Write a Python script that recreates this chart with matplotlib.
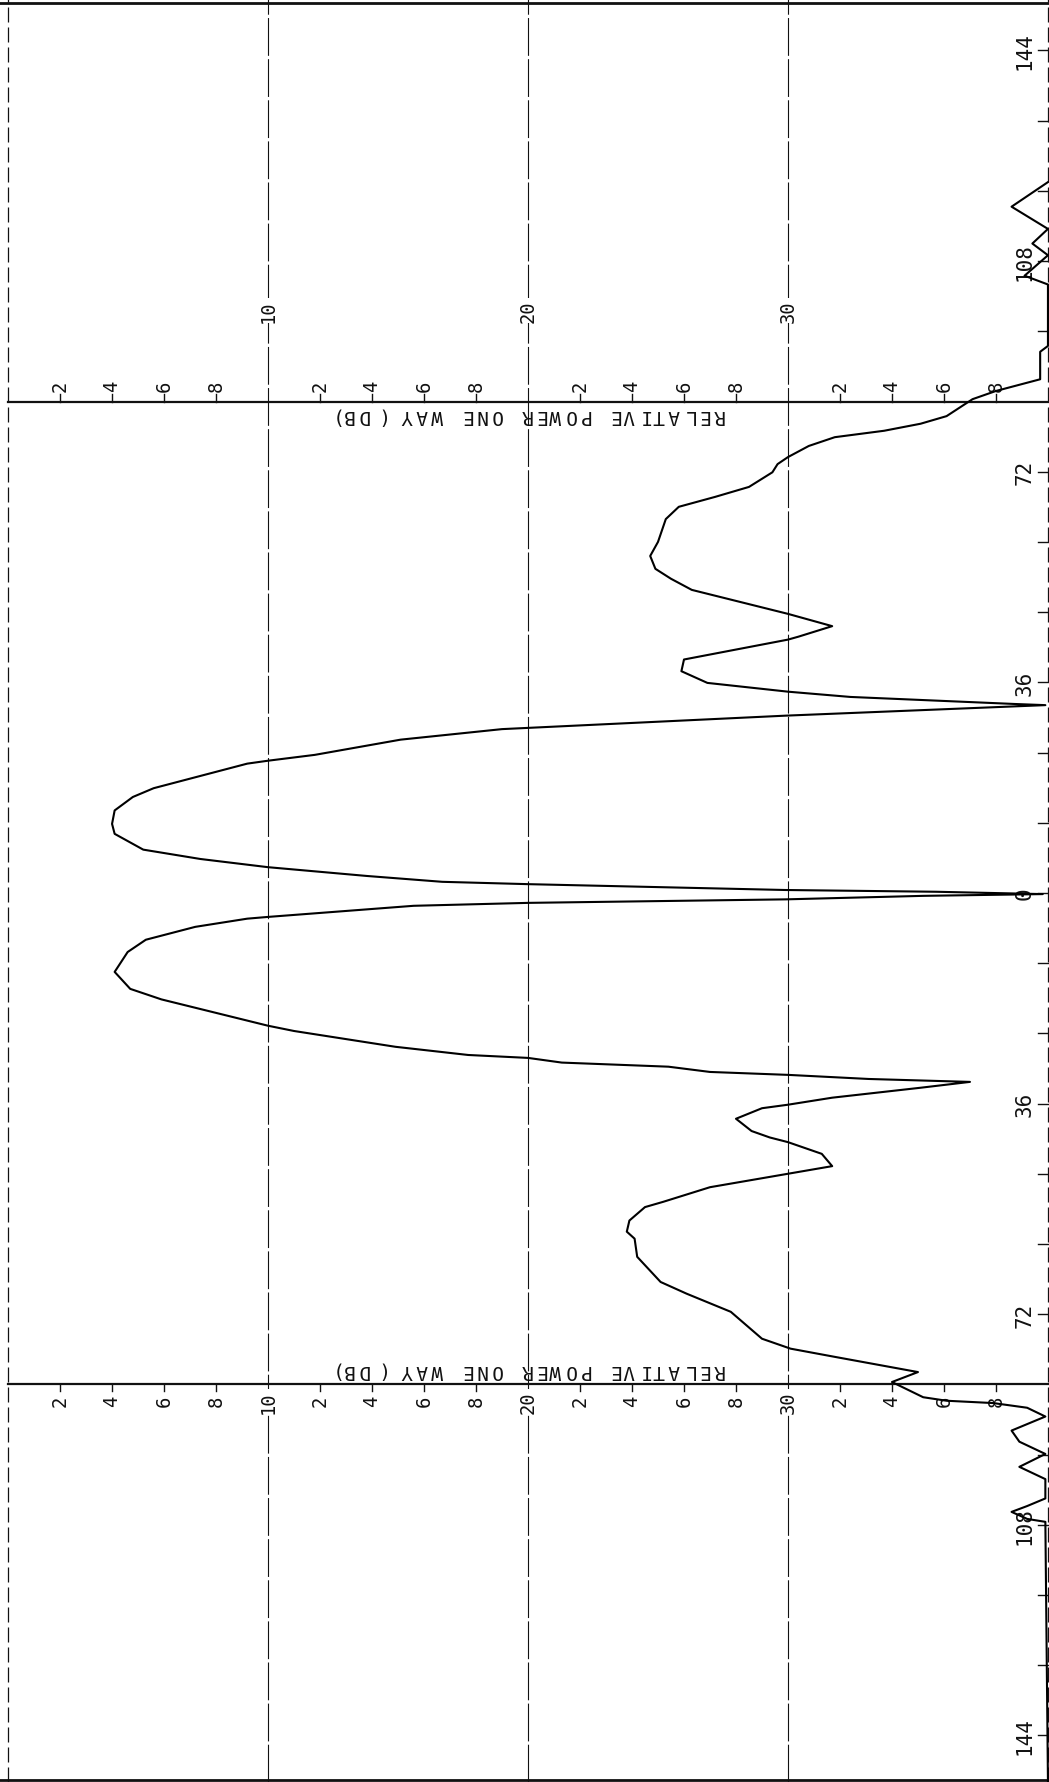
"""
Diagrama de irradiacao (potencia relativa, uma via) em funcao do angulo.

A folha e desenhada "deitada", como saiu do plotter: o angulo corre na
vertical (0 no centro, 144 nas pontas) e a potencia relativa em dB corre
na horizontal (0 a esquerda, 40 a direita).
"""

import matplotlib

matplotlib.use("Agg")
import matplotlib.pyplot as plt


ARQUIVO_SAIDA = "out.png"

# Curva: angulo (graus, positivo para cima) e dB abaixo do pico
ANGULOS = [
    121.5, 117.3, 113.5, 111.0, 109.0, 105.5, 104.0, 93.5, 92.5, 87.8,
    85.8, 84.4, 81.5, 80.2, 79.0, 77.9, 76.4, 74.5, 73.3, 71.9,
    69.4, 67.7, 66.0, 63.9, 60.0, 57.6, 55.4, 53.7, 51.8, 49.7,
    47.7, 45.6, 43.8, 43.3, 39.9, 37.9, 35.9, 34.4, 33.5, 32.3,
    32.1, 30.3, 28.2, 28.0, 26.2, 23.6, 22.6, 22.1, 20.0, 17.9,
    16.4, 14.1, 11.8, 10.1, 7.4, 5.8, 4.4, 2.9, 1.9, 1.5,
    0.5, 0.2, -0.2, -0.5, -1.1, -1.7, -2.2, -4.1, -4.4, -5.8,
    -8.0, -10.1, -13.5, -16.4, -18.2, -20.4, -22.7, -23.6, -26.3, -27.7,
    -28.2, -29.0, -29.7, -30.6, -31.1, -31.8, -32.3, -33.3, -35.0, -36.2,
    -36.8, -38.6, -40.7, -41.8, -42.6, -44.6, -46.7, -48.0, -50.3, -52.8,
    -53.7, -56.0, -57.9, -59.1, -62.2, -66.5, -68.5, -71.6, -76.2, -77.9,
    -79.3, -81.9, -83.6, -86.2, -86.8, -87.2, -88.0, -89.5, -91.9, -93.8,
    -95.9, -98.1, -100.2, -103.5, -104.8, -105.8, -107.0, -107.5, -152.0,
]
POTENCIA_DB = [
    40.0, 38.6, 40.0, 39.4, 40.0, 39.1, 40.0, 40.0, 39.7, 39.7,
    38.0, 37.1, 36.1, 35.1, 33.7, 31.8, 30.8, 30.0, 29.6, 29.4,
    28.5, 27.2, 25.8, 25.3, 25.0, 24.7, 24.9, 25.5, 26.3, 28.2,
    30.0, 31.7, 30.4, 30.0, 26.0, 25.9, 26.9, 30.0, 32.4, 38.7,
    39.9, 29.9, 20.0, 19.0, 15.1, 11.8, 10.0, 9.2, 7.4, 5.6,
    4.8, 4.1, 4.0, 4.1, 5.2, 7.4, 10.0, 13.8, 16.7, 20.0,
    29.9, 35.7, 39.8, 35.2, 29.9, 20.0, 15.6, 10.0, 9.2, 7.2,
    5.3, 4.6, 4.1, 4.7, 5.9, 7.9, 10.0, 11.0, 14.9, 17.7,
    20.0, 21.3, 25.4, 27.0, 30.0, 33.1, 37.0, 35.1, 31.7, 30.0,
    29.0, 28.0, 28.6, 29.3, 30.0, 31.3, 31.7, 30.0, 27.0, 25.2,
    24.5, 23.9, 23.8, 24.1, 24.2, 25.1, 26.1, 27.8, 29.0, 30.1,
    31.8, 35.0, 34.0, 35.2, 36.1, 37.9, 39.2, 39.9, 38.6, 38.9,
    39.9, 38.9, 39.9, 39.9, 39.2, 38.6, 39.2, 39.9, 40.0,
]

# escala de angulo (lado direito) e escala de dB (nos dois eixos horizontais)
MARCAS_ANGULO = [-144, -132, -120, -108, -96, -72, -60, -48, -36, -24, -12,
                 0, 12, 24, 36, 48, 60, 72, 96, 108, 120, 132, 144]
ROTULOS_ANGULO = [144, 108, 72, 36, 0, -36, -72, -108, -144]
GRADE_DB = [10, 20, 30]
MARCAS_DB = [2, 4, 6, 8, 12, 14, 16, 18, 22, 24, 26, 28, 32, 34, 36, 38]
EIXOS_DB = [84, -84]
TITULO_EIXO = "RELATIVE POWER ONE WAY (DB)"

FONTE = "DejaVu Sans Mono"
COR = "#111111"


def preparar_figura():
    """Cria a figura sem margens, com limites iguais aos da folha."""
    figura = plt.figure(figsize=(10.49, 17.83), dpi=100)
    ax = figura.add_axes([0, 0, 1, 1])
    ax.set_xlim(-0.31, 40.04)
    ax.set_ylim(-151.97, 152.8)
    ax.axis("off")
    return figura, ax


def desenhar_moldura(ax) -> None:
    """Bordas da folha e linhas de grade de 10 em 10 dB."""
    ax.axhline(152.1, color=COR, lw=2.0)
    ax.axhline(-151.6, color=COR, lw=2.0)
    for d in [0, 40]:
        ax.axvline(d, color=COR, lw=0.9, dashes=(12, 4))
    for d in GRADE_DB:
        ax.axvline(d, color=COR, lw=0.8, dashes=(34, 3))


def desenhar_eixos_db(ax) -> None:
    """Os dois eixos horizontais de potencia, com marcas, numeros e titulo."""
    for y, sinal in zip(EIXOS_DB, [1, -1]):
        ax.plot([0, 40], [y, y], color=COR, lw=1.6)
        for d in MARCAS_DB:
            ax.plot([d, d], [y, y + sinal * 1.2], color=COR, lw=1.0)
            ax.text(d, y + sinal * 2.7, str(d % 10), rotation=90,
                    ha="center", va="center", fontsize=13.5, family=FONTE,
                    color=COR)
        y_grade = 99.5 if sinal > 0 else -86.9
        for d in GRADE_DB:
            ax.text(d, y_grade, str(d), rotation=90, ha="center",
                    va="center", fontsize=13.5, family=FONTE, color=COR,
                    bbox=dict(facecolor="white", edgecolor="none", pad=1))

        # titulo invertido, letra por letra para manter o passo do plotter
        y_titulo = 81.7 if sinal > 0 else -81.4
        for i, letra in enumerate(TITULO_EIXO):
            ax.text(27.3 - i * 0.569, y_titulo, letra, rotation=180,
                    ha="center", va="center", fontsize=14, family=FONTE,
                    color=COR)


def desenhar_eixo_angulo(ax) -> None:
    """Marcas de angulo no lado direito da folha."""
    for a in MARCAS_ANGULO:
        ax.plot([39.6, 40], [a, a], color=COR, lw=1.0)
    for a in ROTULOS_ANGULO:
        ax.text(39.1, a, str(abs(a)), rotation=90, ha="center",
                va="center", fontsize=15, family=FONTE, color=COR)


def main() -> None:
    figura, ax = preparar_figura()
    desenhar_moldura(ax)
    desenhar_eixos_db(ax)
    desenhar_eixo_angulo(ax)

    ax.plot(POTENCIA_DB, ANGULOS, color="black", lw=1.5, zorder=5)

    figura.savefig(ARQUIVO_SAIDA, dpi=100, facecolor="white")


if __name__ == "__main__":
    main()
